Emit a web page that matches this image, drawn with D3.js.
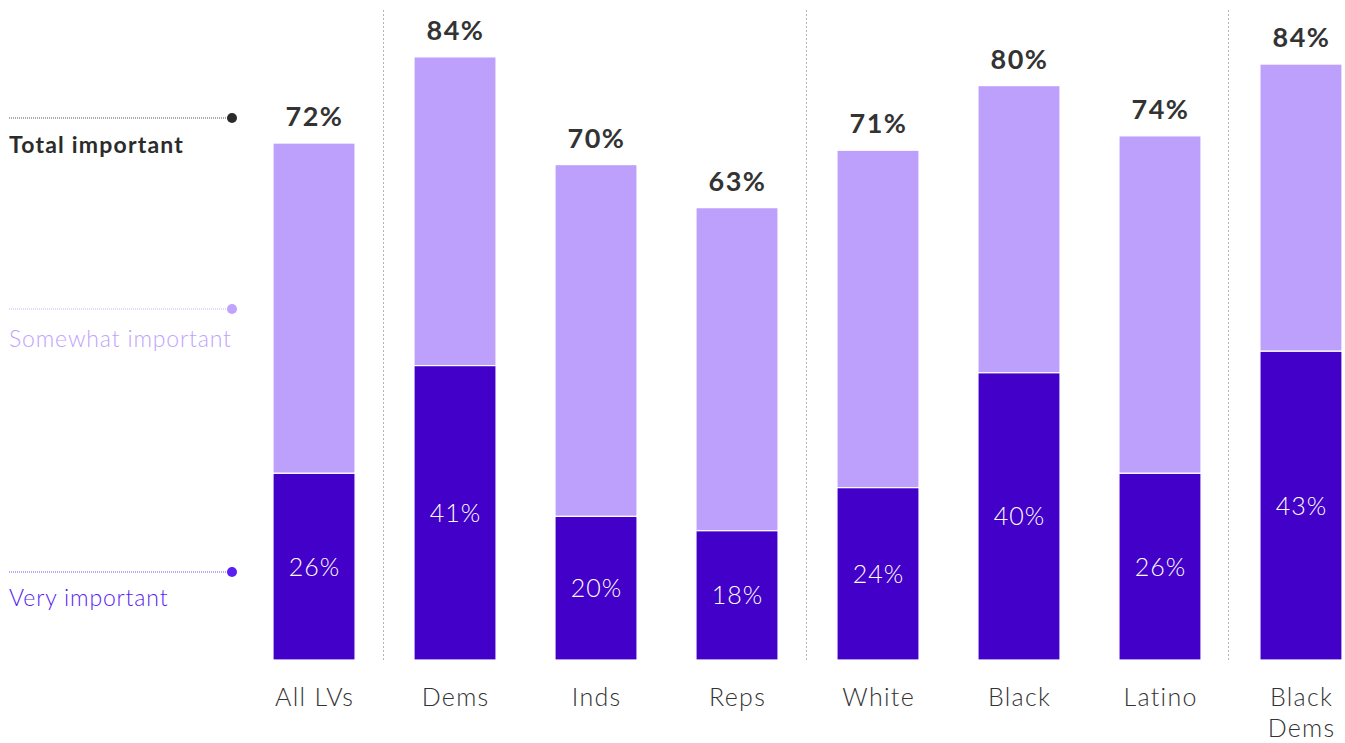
<!DOCTYPE html>
<html>
<head>
<meta charset="utf-8">
<script src="https://cdn.jsdelivr.net/npm/d3@7/dist/d3.min.js"></script>
<style>
  html, body { margin: 0; padding: 0; background: #fff; }
  svg { display: block; }
</style>
</head>
<body>
<svg id="chart" width="1345" height="743"></svg>
<script>
const categories = ["All LVs", "Dems", "Inds", "Reps", "White", "Black", "Latino", "Black Dems"];
const veryImportant = [26, 41, 20, 18, 24, 40, 26, 43];
const somewhatImportant = [46, 43, 49, 45, 47, 40, 47, 40];
const totalLabels = [72, 84, 70, 63, 71, 80, 74, 84];
const separatorsAfter = ["All LVs", "Reps", "Latino"];
const legendItems = [
  { key: "total", label: "Total important" },
  { key: "somewhat", label: "Somewhat important" },
  { key: "very", label: "Very important" }
];

const W = 1345, H = 743;
const svg = d3.select("#chart");
const FONT = "Lato, 'Open Sans', sans-serif";
const C_LIGHT = "#bda0fb";
const C_DARK = "#4200c8";
const C_TEXT = "#333333";

const x = d3.scaleBand().domain(categories).range([273, 1342]).paddingInner(0.418).paddingOuter(0);
const y = d3.scaleLinear().domain([0, 100]).range([660, -58]);

// separators
const step = x.step(), bw = x.bandwidth();
separatorsAfter.forEach(c => {
  const sx = Math.round(x(c) + bw + (step - bw) / 2) - 1.5;
  svg.append("line")
    .attr("x1", sx).attr("x2", sx).attr("y1", 10).attr("y2", 662)
    .attr("stroke", "#b5b5b5").attr("stroke-width", 1)
    .attr("stroke-dasharray", "2,2");
});

const data = categories.map((c, i) => ({
  cat: c, very: veryImportant[i], somewhat: somewhatImportant[i], total: totalLabels[i]
}));

const g = svg.append("g");
// somewhat (top) segment
g.selectAll("rect.som").data(data).join("rect")
  .attr("class", "som")
  .attr("x", d => x(d.cat))
  .attr("width", bw)
  .attr("y", d => y(d.very + d.somewhat))
  .attr("height", d => y(d.very) - y(d.very + d.somewhat))
  .attr("fill", C_LIGHT)
  .attr("stroke", "#fff").attr("stroke-width", 1.2);
// very (bottom) segment
g.selectAll("rect.very").data(data).join("rect")
  .attr("class", "very")
  .attr("x", d => x(d.cat))
  .attr("width", bw)
  .attr("y", d => y(d.very))
  .attr("height", d => y(0) - y(d.very))
  .attr("fill", C_DARK)
  .attr("stroke", "#fff").attr("stroke-width", 1.2);

// inner labels
g.selectAll("text.vl").data(data).join("text")
  .attr("class", "vl")
  .attr("x", d => x(d.cat) + bw / 2 + 0.5)
  .attr("y", d => (y(d.very) + y(0)) / 2 + 9)
  .attr("text-anchor", "middle")
  .attr("fill", "#fff")
  .attr("font-family", FONT).attr("font-weight", 300).attr("font-size", 25)
  .attr("letter-spacing", 1)
  .text(d => d.very + "%");

// total labels
g.selectAll("text.tl").data(data).join("text")
  .attr("class", "tl")
  .attr("x", d => x(d.cat) + bw / 2 + 0.5)
  .attr("y", d => y(d.very + d.somewhat) - 17)
  .attr("text-anchor", "middle")
  .attr("fill", C_TEXT)
  .attr("font-family", FONT).attr("font-weight", 700).attr("font-size", 27)
  .attr("letter-spacing", 1.5)
  .text(d => d.total + "%");

// category labels
const xAxis = svg.append("g").attr("transform", `translate(0,${y(0)})`)
  .call(d3.axisBottom(x).tickSize(0).tickPadding(0));
xAxis.select(".domain").remove();
xAxis.selectAll(".tick text").remove();
xAxis.selectAll(".tick").each(function(c) {
  const t = d3.select(this).append("text")
    .attr("text-anchor", "middle")
    .attr("fill", C_TEXT)
    .attr("font-family", FONT).attr("font-weight", 300).attr("font-size", 25)
    .attr("letter-spacing", 1.3);
  const words = c === "Black Dems" ? ["Black", "Dems"] : [c];
  words.forEach((w, i) => {
    t.append("tspan").attr("x", 0.6).attr("y", 46 + i * 31).text(w);
  });
});

// legend
const legendY = { total: 118, somewhat: 309, very: 572 };
const legendTextDy = { total: 35, somewhat: 38, very: 34 };
const legendColor = { total: "#2b2b2b", somewhat: "#c0a3fc", very: "#5a1ef2" };
const legendLine = { total: "#555", somewhat: "#c7b0fc", very: "#7a4cf5" };
const lg = svg.append("g");
legendItems.forEach(it => {
  const ly = legendY[it.key];
  lg.append("line").attr("x1", 9).attr("x2", 232).attr("y1", ly).attr("y2", ly)
    .attr("stroke", legendLine[it.key]).attr("stroke-width", 1).attr("stroke-dasharray", "1,1");
  lg.append("circle").attr("cx", 232).attr("cy", ly).attr("r", 5).attr("fill", legendColor[it.key]);
  lg.append("text").attr("x", 9).attr("y", ly + legendTextDy[it.key])
    .attr("fill", legendColor[it.key])
    .attr("font-family", FONT)
    .attr("font-weight", it.key === "total" ? 700 : 300)
    .attr("font-size", 23)
    .attr("letter-spacing", it.key === "total" ? 1.2 : 0.85)
    .text(it.label);
});
</script>
</body>
</html>
